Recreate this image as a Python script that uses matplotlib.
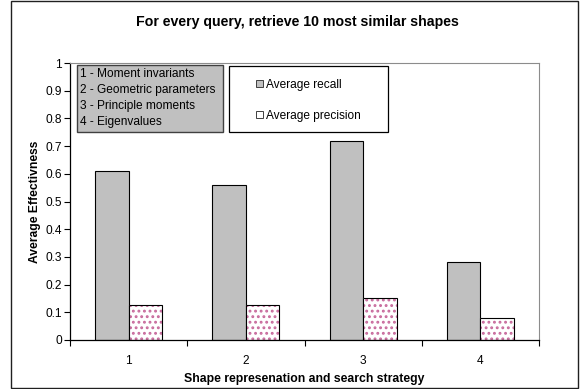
import matplotlib
matplotlib.use("Agg")
import matplotlib.pyplot as plt
from matplotlib.patches import Rectangle, Patch

plt.rcParams['font.family'] = ['Liberation Sans', 'DejaVu Sans']
plt.rcParams['hatch.linewidth'] = 1.3

categories = ['1', '2', '3', '4']
recall = [0.61, 0.56, 0.72, 0.28]
precision = [0.128, 0.128, 0.152, 0.08]
methods = ['1 - Moment invariants', '2 - Geometric parameters',
           '3 - Principle moments', '4 - Eigenvalues']
yticks = [0, 0.1, 0.2, 0.3, 0.4, 0.5, 0.6, 0.7, 0.8, 0.9, 1]

GRAY = '#c0c0c0'
DOT = '#c86a9c'
FS = 8.6

W, H = 581, 389
fig = plt.figure(figsize=(W / 100, H / 100), dpi=100)

def fx(px):
    return px / W

def fy(py):
    return 1 - py / H

ax = fig.add_axes([fx(70), fy(340), fx(539) - fx(70), fy(63) - fy(340)])

x = list(range(len(categories)))
bw = 0.285
ax.bar([i - bw / 2 for i in x], recall, width=bw, color=GRAY,
       edgecolor='black', linewidth=0.8, label='Average recall', zorder=2)
# dotted fill (hatch takes the edge colour), then a black outline on top
ax.bar([i + bw / 2 for i in x], precision, width=bw, color='white',
       edgecolor=DOT, linewidth=0, hatch='...', zorder=2)
ax.bar([i + bw / 2 for i in x], precision, width=bw, color='none',
       edgecolor='black', linewidth=0.8, label='Average precision', zorder=3)

ax.set_xlim(-0.5, len(categories) - 0.5)
ax.set_ylim(0, 1)
ax.set_yticks(yticks)
ax.set_yticklabels([f'{v:g}' for v in yticks])
ax.set_xticks(x)
ax.set_xticklabels(categories)
ax.set_xticks([i - 0.5 for i in range(len(categories) + 1)], minor=True)
ax.tick_params(axis='x', which='major', length=0, pad=11, labelsize=FS)
ax.tick_params(axis='x', which='minor', length=4, direction='out', width=0.8)
ax.tick_params(axis='y', length=4, direction='out', width=0.8, labelsize=FS, pad=2)

for s in ['top', 'right']:
    ax.spines[s].set_color('#8c8c8c')
    ax.spines[s].set_linewidth(0.8)
for s in ['left', 'bottom']:
    ax.spines[s].set_color('black')
    ax.spines[s].set_linewidth(0.9)

ax.set_ylabel('Average Effectivness', fontsize=8.7, fontweight='bold', labelpad=3)
ax.set_xlabel('Shape represenation and search strategy', fontsize=8.8,
              fontweight='bold', labelpad=4)
fig.text(fx(297), fy(22), 'For every query, retrieve 10 most similar shapes',
         ha='center', va='center', fontsize=10.2, fontweight='bold')

# method key box
fig.patches.append(Rectangle((fx(77), fy(132)), fx(223) - fx(77), fy(65) - fy(132),
                             transform=fig.transFigure, facecolor=GRAY,
                             edgecolor='#404040', linewidth=1.0, zorder=3))
for k, name in enumerate(methods):
    fig.text(fx(80), fy(74 + 16 * k), name, ha='left', va='center',
             fontsize=FS, zorder=4)

# series legend: white frame plus unframed legend entries
fig.patches.append(Rectangle((fx(229), fy(132)), fx(388) - fx(229), fy(66) - fy(132),
                             transform=fig.transFigure, facecolor='white',
                             edgecolor='black', linewidth=0.9, zorder=3))
handles = [Patch(facecolor=GRAY, edgecolor='#404040', linewidth=0.7),
           Patch(facecolor='white', edgecolor='#404040', linewidth=0.7)]
leg = fig.legend(handles, ['Average recall', 'Average precision'],
                 loc='upper left', bbox_to_anchor=(fx(256), fy(79)),
                 fontsize=FS, frameon=False, borderpad=0, borderaxespad=0,
                 labelspacing=1.55, handlelength=0.55, handleheight=0.55,
                 handletextpad=0.25)
leg.set_zorder(4)

# outer figure frame
fig.patches.append(Rectangle((fx(11), fy(388)), fx(578) - fx(11), fy(1) - fy(388),
                             transform=fig.transFigure, facecolor='none',
                             edgecolor='#202020', linewidth=1.0, zorder=5))

fig.savefig('out.png', dpi=100)
